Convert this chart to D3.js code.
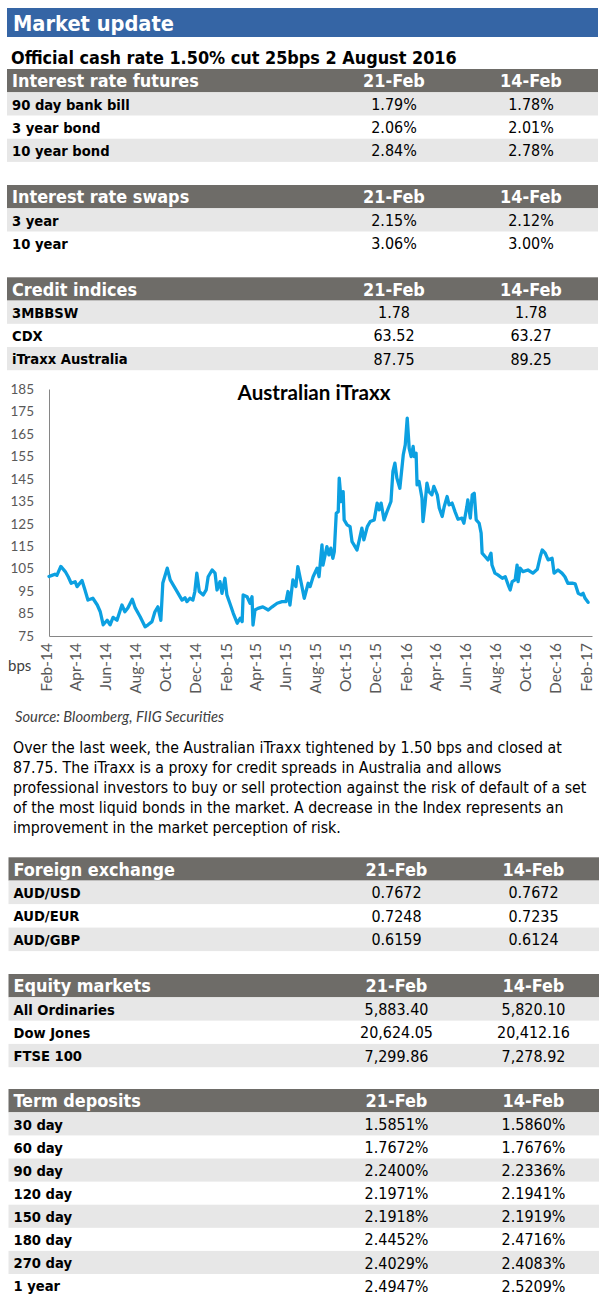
<!DOCTYPE html>
<html><head><meta charset="utf-8">
<script src="https://cdn.jsdelivr.net/npm/d3@7/dist/d3.min.js"></script>
<style>body{margin:0;background:#fff}svg{display:block}</style>
</head><body><svg id="c" width="606" height="1300"></svg>
<script>
// ---------------- DATA ----------------
const pageTitle = "Market update";
const cashRateNote = "Official cash rate 1.50% cut 25bps 2 August 2016";
const colHeads = ["21-Feb", "14-Feb"];

const futuresLabels = ["90 day bank bill", "3 year bond", "10 year bond"];
const futures21 = ["1.79%", "2.06%", "2.84%"];
const futures14 = ["1.78%", "2.01%", "2.78%"];

const swapsLabels = ["3 year", "10 year"];
const swaps21 = ["2.15%", "3.06%"];
const swaps14 = ["2.12%", "3.00%"];

const creditLabels = ["3MBBSW", "CDX", "iTraxx Australia"];
const credit21 = ["1.78", "63.52", "87.75"];
const credit14 = ["1.78", "63.27", "89.25"];

const fxLabels = ["AUD/USD", "AUD/EUR", "AUD/GBP"];
const fx21 = ["0.7672", "0.7248", "0.6159"];
const fx14 = ["0.7672", "0.7235", "0.6124"];

const equityLabels = ["All Ordinaries", "Dow Jones", "FTSE 100"];
const equity21 = ["5,883.40", "20,624.05", "7,299.86"];
const equity14 = ["5,820.10", "20,412.16", "7,278.92"];

const tdLabels = ["30 day", "60 day", "90 day", "120 day", "150 day", "180 day", "270 day", "1 year"];
const td21 = ["1.5851%", "1.7672%", "2.2400%", "2.1971%", "2.1918%", "2.4452%", "2.4029%", "2.4947%"];
const td14 = ["1.5860%", "1.7676%", "2.2336%", "2.1941%", "2.1919%", "2.4716%", "2.4083%", "2.5209%"];

const chartTitle = "Australian iTraxx";
const yUnit = "bps";
const sourceNote = "Source: Bloomberg, FIIG Securities";
const yTicks = [75, 85, 95, 105, 115, 125, 135, 145, 155, 165, 175, 185];
const xTickDates = ["2014-02-01","2014-04-01","2014-06-01","2014-08-01","2014-10-01","2014-12-01",
  "2015-02-01","2015-04-01","2015-06-01","2015-08-01","2015-10-01","2015-12-01",
  "2016-02-01","2016-04-01","2016-06-01","2016-08-01","2016-10-01","2016-12-01","2017-02-01"];

const itraxxDates = [
"2014-02-07","2014-02-13","2014-02-19","2014-02-23","2014-03-03","2014-03-12","2014-03-18","2014-03-24",
"2014-04-01","2014-04-05","2014-04-15","2014-04-21","2014-04-27","2014-05-07","2014-05-16","2014-05-22",
"2014-05-28","2014-06-05","2014-06-11","2014-06-17","2014-06-25","2014-07-05","2014-07-11","2014-07-17",
"2014-07-26","2014-08-01","2014-08-11","2014-08-21","2014-08-27","2014-09-04","2014-09-10","2014-09-16",
"2014-09-22","2014-09-26","2014-10-05","2014-10-11","2014-10-25","2014-11-04","2014-11-10","2014-11-14",
"2014-11-20","2014-11-26","2014-11-30","2014-12-04","2014-12-09","2014-12-17","2014-12-23","2014-12-27",
"2015-01-04","2015-01-10","2015-01-14","2015-01-20","2015-01-24","2015-01-30","2015-02-03","2015-02-09",
"2015-02-16","2015-02-24","2015-03-02","2015-03-06","2015-03-08","2015-03-16","2015-03-22","2015-03-26",
"2015-03-28","2015-04-01","2015-04-07","2015-04-17","2015-04-28","2015-05-06","2015-05-16","2015-05-26",
"2015-06-03","2015-06-07","2015-06-11","2015-06-17","2015-06-23","2015-06-27","2015-07-04","2015-07-10",
"2015-07-18","2015-07-22","2015-07-28","2015-08-05","2015-08-09","2015-08-15","2015-08-17","2015-08-25",
"2015-08-29","2015-09-02","2015-09-06","2015-09-09","2015-09-13","2015-09-17","2015-09-19","2015-09-23",
"2015-09-27","2015-09-29","2015-10-05","2015-10-11","2015-10-15","2015-10-19","2015-10-25","2015-10-29",
"2015-11-04","2015-11-08","2015-11-15","2015-11-21","2015-11-29","2015-12-05","2015-12-09","2015-12-13",
"2015-12-19","2015-12-25","2016-01-02","2016-01-06","2016-01-10","2016-01-14","2016-01-20","2016-01-27",
"2016-01-31","2016-02-04","2016-02-08","2016-02-12","2016-02-16","2016-02-18","2016-02-22","2016-02-24",
"2016-02-28","2016-03-05","2016-03-07","2016-03-11","2016-03-15","2016-03-19","2016-03-25","2016-03-29",
"2016-04-05","2016-04-09","2016-04-15","2016-04-19","2016-04-25","2016-04-29","2016-05-05","2016-05-11",
"2016-05-17","2016-05-25","2016-05-29","2016-06-04","2016-06-06","2016-06-11","2016-06-15","2016-06-19",
"2016-06-23","2016-06-29","2016-07-03","2016-07-05","2016-07-11","2016-07-17","2016-07-23","2016-07-25",
"2016-07-31","2016-08-06","2016-08-15","2016-08-21","2016-08-27","2016-08-31","2016-09-04","2016-09-10",
"2016-09-14","2016-09-16","2016-09-20","2016-09-26","2016-10-06","2016-10-16","2016-10-25","2016-10-31",
"2016-11-04","2016-11-10","2016-11-16","2016-11-24","2016-11-28","2016-12-06","2016-12-14","2016-12-20",
"2016-12-26","2017-01-04","2017-01-10","2017-01-16","2017-01-22","2017-01-26","2017-01-30","2017-02-05"];

const itraxxValues = [
101.5,102,102.5,102,106,103.7,101.4,98.5,
99.2,97,99.7,95.5,91,91.8,88.8,85.8,
80,82,80,83.3,82,88.8,85.8,87.5,
91.4,87.5,83.6,79.1,80,81.4,85.8,88,
82,98.6,105.2,100,94.8,91,92,90.3,
91.8,91,94.8,103,94.8,93.3,95.5,101.4,
104.4,103,95.5,99.2,94,100.7,93.3,89.6,
85.1,80.7,82.9,81.4,93.3,92.5,89.6,92.5,
79.9,86.6,87.3,88,86.6,88,89.6,90.3,
90.3,94.8,88.8,100,97,105.9,98.5,91.8,
98.5,97,101.4,105.2,101.4,115.6,106.6,114.8,
111.1,114.1,109.6,112.6,129.7,130.4,145.3,134.9,
139.3,126.7,124.5,123.7,117,115.6,113.3,117,
123,117.8,123.7,126,126.7,134.2,131.2,134.2,
126.7,130.4,134.9,148.3,152,145.3,140.8,155.7,
160.1,172,158.6,154.9,159.4,154.9,156.4,142.3,
143.8,136.4,126,133.4,143.1,139.3,137.9,141.6,
137.9,132,128.2,132.6,137.1,133.4,134.2,130.4,
127,127.5,125.2,132.6,135.6,127.5,137.9,138.6,
126.7,125.2,120.8,111.9,110.4,108.9,111.9,106.6,
103,102.2,100.7,101.4,97.7,95.5,99.2,100,
106.6,99.2,105.2,103.7,104.4,103,104.7,110.4,
113.3,111.9,108.9,109.6,103,104.4,103,101.4,
98.5,98.5,98.2,94,93.3,94,91.8,90];

const noteLines = [
"Over the last week, the Australian iTraxx tightened by 1.50 bps and closed at",
"87.75. The iTraxx is a proxy for credit spreads in Australia and allows",
"professional investors to buy or sell protection against the risk of default of a set",
"of the most liquid bonds in the market. A decrease in the Index represents an",
"improvement in the market perception of risk."];

// ---------------- DRAW ----------------
const TA = "'DejaVu Sans Condensed','DejaVu Sans',sans-serif";
const CAL = "Lato,'Open Sans',sans-serif";
const svg = d3.select("#c");
svg.append("rect").attr("width", 606).attr("height", 1300).attr("fill", "#fff");

function fitSize(text, base, weight, family, target, style) {
  const t = svg.append("text").attr("font-size", base).attr("font-weight", weight)
    .attr("font-family", family).attr("font-style", style || "normal").text(text);
  const w = t.node().getComputedTextLength();
  t.remove();
  return base * target / w;
}
const titleSize = fitSize(pageTitle, 21, "bold", TA, 161);
const subSize = fitSize(cashRateNote, 18, "bold", TA, 446);
const headSize = fitSize("Interest rate futures", 18, "bold", TA, 187);
const labelSize = fitSize("90 day bank bill", 15, "bold", TA, 118);
const valueSize = fitSize("20,624.05", 16, "normal", TA, 73);
const paraSize = fitSize(noteLines[0], 14.5, "normal", TA, 549);
const cTitleSize = fitSize(chartTitle, 18, "bold", CAL, 153);
const srcSize = fitSize(sourceNote, 12, "normal", CAL, 209, "italic");

// header bar
svg.append("rect").attr("x", 7).attr("y", 8).attr("width", 591).attr("height", 29).attr("fill", "#3565A5");
svg.append("text").attr("x", 13).attr("y", 31).attr("fill", "#fff").attr("font-family", TA)
  .attr("font-weight", "bold").attr("font-size", titleSize).text(pageTitle);
svg.append("text").attr("x", 11).attr("y", 63.5).attr("fill", "#000").attr("font-family", TA)
  .attr("font-weight", "bold").attr("font-size", subSize).text(cashRateNote);

function drawTable(y0, x0, x1, c1, c2, title, labels, v1, v2, rowH) {
  const g = svg.append("g");
  const headH = 23.3;
  g.append("rect").attr("x", x0).attr("y", y0).attr("width", x1 - x0).attr("height", headH).attr("fill", "#6E6C68");
  const ht = (x, t, anchor) => g.append("text").attr("x", x).attr("y", y0 + 18.3).attr("fill", "#fff")
    .attr("font-family", TA).attr("font-weight", "bold").attr("font-size", headSize)
    .attr("text-anchor", anchor).text(t);
  ht(x0 + 5, title, "start");
  ht(c1, colHeads[0], "middle");
  ht(c2, colHeads[1], "middle");
  labels.forEach((lab, i) => {
    const top = y0 + headH + i * rowH;
    if (i % 2 === 0) g.append("rect").attr("x", x0).attr("y", top).attr("width", x1 - x0).attr("height", rowH).attr("fill", "#E7E7E7");
    g.append("text").attr("x", x0 + 5).attr("y", top + 17.3).attr("font-family", TA).attr("font-weight", "bold")
      .attr("font-size", labelSize).attr("fill", "#000").text(lab);
    g.append("text").attr("x", c1).attr("y", top + 17.6).attr("font-family", TA).attr("text-anchor", "middle")
      .attr("font-size", valueSize).attr("fill", "#000").text(v1[i]);
    g.append("text").attr("x", c2).attr("y", top + 17.6).attr("font-family", TA).attr("text-anchor", "middle")
      .attr("font-size", valueSize).attr("fill", "#000").text(v2[i]);
  });
}
drawTable(69, 7, 598, 394, 531, "Interest rate futures", futuresLabels, futures21, futures14, 23.2);
drawTable(185, 7, 598, 394, 531, "Interest rate swaps", swapsLabels, swaps21, swaps14, 23.2);
drawTable(277.3, 7, 598, 394, 531, "Credit indices", creditLabels, credit21, credit14, 23.2);
drawTable(857.3, 8.5, 599, 396.5, 533.5, "Foreign exchange", fxLabels, fx21, fx14, 23.5);
drawTable(974, 8.5, 599, 396.5, 533.5, "Equity markets", equityLabels, equity21, equity14, 23.3);
drawTable(1089, 8.5, 599, 396.5, 533.5, "Term deposits", tdLabels, td21, td14, 23.1);

// ---------------- CHART ----------------
const parse = d3.utcParse("%Y-%m-%d");
const series = itraxxDates.map((d, i) => ({ date: parse(d), value: itraxxValues[i] }));
const x = d3.scaleUtc().domain([parse("2014-02-07"), parse("2017-02-13")]).range([49, 592]);
const y = d3.scaleLinear().domain([75, 185]).range([636, 389]);

const gy = svg.append("g").attr("transform", "translate(49,0)")
  .call(d3.axisLeft(y).tickValues(yTicks).tickSize(0).tickPadding(15).tickFormat(d3.format("d")));
gy.select(".domain").attr("stroke", "#868686");
gy.selectAll("text").attr("font-family", CAL).attr("font-size", 13.5).attr("fill", "#595959");

const gx = svg.append("g").attr("transform", "translate(0,636)")
  .call(d3.axisBottom(x).tickValues(xTickDates.map(parse)).tickSize(0).tickFormat(d3.utcFormat("%b-%y")));
gx.select(".domain").attr("stroke", "#868686");
gx.selectAll("text").attr("font-family", CAL).attr("font-size", 15.5).attr("fill", "#595959")
  .attr("transform", "rotate(-90)").attr("text-anchor", "end").attr("x", -7).attr("y", 0).attr("dy", "0.35em");

svg.append("path").datum(series)
  .attr("fill", "none").attr("stroke", "#0CA0E1").attr("stroke-width", 3.3)
  .attr("stroke-linejoin", "round").attr("stroke-linecap", "round")
  .attr("d", d3.line().x(d => x(d.date)).y(d => y(d.value)));

svg.append("text").attr("x", 314).attr("y", 400).attr("text-anchor", "middle").attr("font-family", CAL)
  .attr("font-weight", "bold").attr("font-size", cTitleSize).attr("fill", "#000").text(chartTitle);
svg.append("text").attr("x", 8).attr("y", 671).attr("font-family", CAL).attr("font-size", 15)
  .attr("fill", "#404040").text(yUnit);

svg.append("text").attr("x", 15).attr("y", 722).attr("font-family", CAL).attr("font-style", "italic")
  .attr("font-size", srcSize).attr("fill", "#404040").text(sourceNote);

svg.append("g").selectAll("text").data(noteLines).join("text")
  .attr("x", 13).attr("y", (d, i) => 753 + i * 20).attr("font-family", TA).attr("font-size", paraSize)
  .attr("fill", "#000").text(d => d);
</script>
</body></html>
